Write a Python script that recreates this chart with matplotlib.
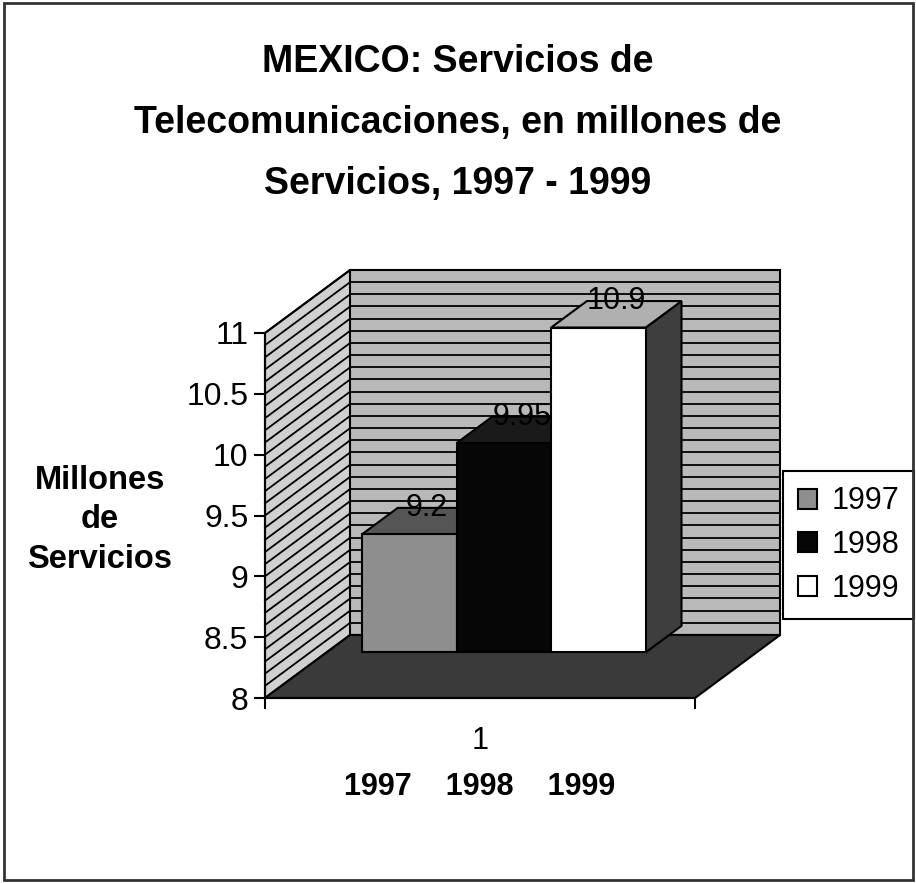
import numpy as np
import matplotlib.pyplot as plt
from matplotlib.patches import Polygon, Rectangle

plt.rcParams['font.family'] = ['Liberation Sans', 'DejaVu Sans']

years = ['1997', '1998', '1999']
values = [9.2, 9.95, 10.9]
value_labels = ['9.2', '9.95', '10.9']
y_ticks = [8, 8.5, 9, 9.5, 10, 10.5, 11]
y_tick_labels = ['8', '8.5', '9', '9.5', '10', '10.5', '11']

front_colors = ['#8e8e8e', '#060606', '#ffffff']
top_colors = ['#555555', '#1a1a1a', '#b0b0b0']
side_colors = ['#4a4a4a', '#111111', '#3e3e3e']

# oblique offsets for one full unit of depth, in data units
DX, DY = 0.198, 0.518
y_min, y_max = 8, 11
bar_w = 0.22
d_front, d_back = 0.28, 0.70
floor_lift = 0.23
grid_step = 0.1


def proj(x, v, d):
    return (x + d * DX, v + d * DY)


fig = plt.figure(figsize=(9.16, 8.83), dpi=100)
ax = fig.add_axes([265 / 916, 185 / 883, 430 / 916, 365 / 883])
ax.set_xlim(0, 1)
ax.set_ylim(y_min, y_max)
ax.patch.set_visible(False)

# walls and floor
side_wall = Polygon([proj(0, y_min, 0), proj(0, y_max, 0), proj(0, y_max, 1), proj(0, y_min, 1)],
                    closed=True, fc='#d0d0d0', ec='black', lw=1.5, zorder=1, clip_on=False)
back_wall = Polygon([proj(0, y_min, 1), proj(1, y_min, 1), proj(1, y_max, 1), proj(0, y_max, 1)],
                    closed=True, fc='#b9b9b9', ec='black', lw=1.5, zorder=1, clip_on=False)
floor = Polygon([proj(0, y_min, 0), proj(1, y_min, 0), proj(1, y_min, 1), proj(0, y_min, 1)],
                closed=True, fc='#3a3a3a', ec='black', lw=1.5, zorder=1.2, clip_on=False)
for p in (side_wall, back_wall, floor):
    ax.add_patch(p)

for v in np.arange(y_min + grid_step, y_max, grid_step):
    xs, ys = zip(proj(0, v, 0), proj(0, v, 1))
    ax.plot(xs, ys, color='black', lw=1.3, zorder=1.1, clip_on=False)
    xs, ys = zip(proj(0, v, 1), proj(1, v, 1))
    ax.plot(xs, ys, color='black', lw=1.3, zorder=1.1, clip_on=False)

# bars
handles = []
for i, (val, lab) in enumerate(zip(values, value_labels)):
    xc = 0.5 + (i - 1) * bar_w
    x0, x1 = xc - bar_w / 2, xc + bar_w / 2
    bottom = y_min + floor_lift
    z = 3 + i
    front = Polygon([proj(x0, bottom, d_front), proj(x1, bottom, d_front),
                     proj(x1, val, d_front), proj(x0, val, d_front)],
                    closed=True, fc=front_colors[i], ec='black', lw=1.5, zorder=z, clip_on=False)
    top = Polygon([proj(x0, val, d_front), proj(x1, val, d_front),
                   proj(x1, val, d_back), proj(x0, val, d_back)],
                  closed=True, fc=top_colors[i], ec='black', lw=1.5, zorder=z, clip_on=False)
    side = Polygon([proj(x1, bottom, d_front), proj(x1, bottom, d_back),
                    proj(x1, val, d_back), proj(x1, val, d_front)],
                   closed=True, fc=side_colors[i], ec='black', lw=1.5, zorder=z, clip_on=False)
    for p in (side, top, front):
        ax.add_patch(p)
    lx, ly = proj(xc, val, (d_front + d_back) / 2)
    ax.text(lx, val + d_back * DY, lab, ha='center', va='center', fontsize=22,
            zorder=z + 0.5, clip_on=False)
    handles.append(Rectangle((0, 0), 1, 1, fc=front_colors[i], ec='black', lw=1.5, label=years[i]))

# axes styling
for s in ('top', 'right'):
    ax.spines[s].set_visible(False)
ax.spines['left'].set_linewidth(1.5)
ax.spines['bottom'].set_linewidth(1.5)
ax.spines['left'].set_zorder(2)
ax.spines['bottom'].set_zorder(2)
ax.set_yticks(y_ticks)
ax.set_yticklabels(y_tick_labels)
ax.tick_params(axis='y', length=8, width=1.5, pad=4, labelsize=23)
ax.set_xticks([0, 1])
ax.set_xticklabels(['', ''])
ax.set_xticks([0.5], minor=True)
ax.set_xticklabels(['1'], minor=True)
ax.tick_params(axis='x', which='major', length=8, width=1.5)
ax.tick_params(axis='x', which='minor', length=0, pad=20, labelsize=22)
ax.set_xlabel('1997    1998    1999', fontsize=22, fontweight='bold', labelpad=12)

fig.text(100 / 916, 1 - 520 / 883, 'Millones\nde\nServicios', ha='center', va='center',
         fontsize=23.5, fontweight='bold', linespacing=1.36)
fig.text(458 / 916, 1 - 123 / 883,
         'MEXICO: Servicios de\nTelecomunicaciones, en millones de\nServicios, 1997 - 1999',
         ha='center', va='center', fontsize=27, fontweight='bold', linespacing=1.88)

leg = ax.legend(handles=handles, loc='center', bbox_to_anchor=(848.5 / 916, 1 - 545 / 883),
                bbox_transform=fig.transFigure, fontsize=22, handlelength=0.63, handleheight=0.63,
                handletextpad=0.45, labelspacing=0.45, borderpad=0.5, fancybox=False,
                framealpha=1, edgecolor='black')
leg.get_frame().set_linewidth(1.5)

fig.patches.append(Rectangle((4 / 916, 3 / 883), 909 / 916, 877 / 883, transform=fig.transFigure,
                             fill=False, ec='#333333', lw=2))

fig.savefig('out.png', dpi=100)
